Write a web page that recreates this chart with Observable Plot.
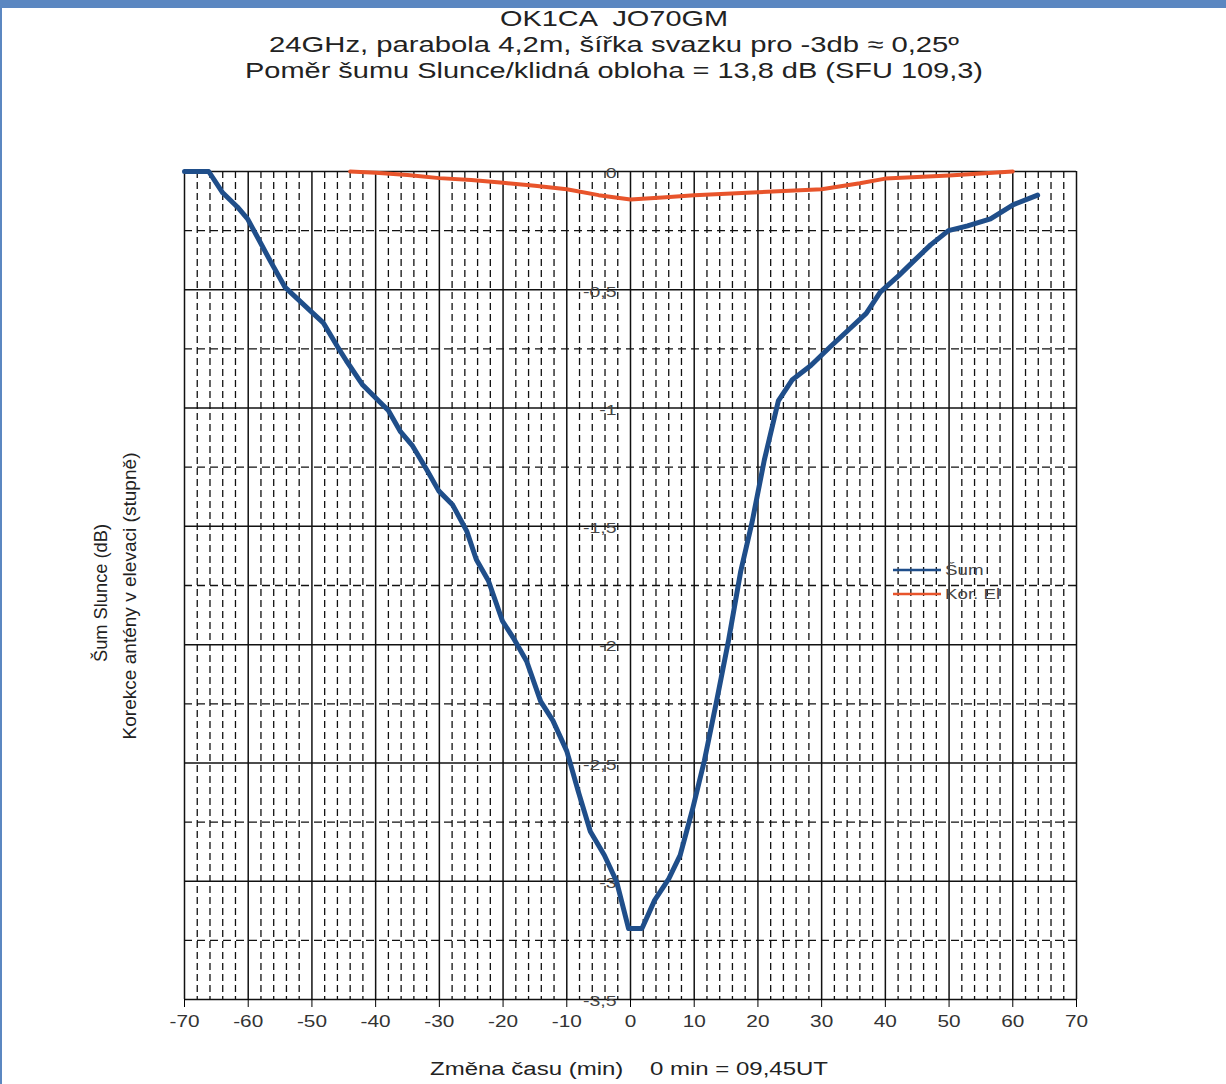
<!DOCTYPE html>
<html>
<head>
<meta charset="utf-8">
<script src="https://cdn.jsdelivr.net/npm/d3@7"></script>
<script src="https://cdn.jsdelivr.net/npm/@observablehq/plot@0.6"></script>
<style>
  html, body { margin: 0; padding: 0; background: #fff; }
  #wrap { position: relative; width: 1226px; height: 1084px; overflow: hidden; font-family: "Liberation Sans", Arial, sans-serif; }
  #chart { position: absolute; left: 0; top: 0; }
  #overlay { position: absolute; left: 0; top: 0; pointer-events: none; }
  .bt { position: absolute; left: 0; top: 0; width: 1226px; height: 8px; background: #5b87c1; }
  .bl { position: absolute; left: 0; top: 0; width: 2px; height: 1084px; background: #5b87c1; }
</style>
</head>
<body>
<div id="wrap">
  <div id="chart"></div>
  <svg id="overlay" width="1226" height="1084"></svg>
  <div class="bt"></div>
  <div class="bl"></div>
</div>
<script>
// ---- data ----
const sunMin = [-70, -66.2, -64, -61.7, -60.1, -58.5, -56.5, -54.2, -50.2, -48.2, -46, -44.6, -42.1, -39.9, -38, -36.1, -34.2, -32, -30.1, -27.9, -25.7, -24.2, -22.3, -20.1, -18.2, -16.3, -14.1, -12.2, -10, -8.2, -6.3, -4.1, -2.2, -0.3, 1.8, 3.8, 6, 7.8, 9.7, 11.6, 13.5, 15.4, 17.3, 19.1, 21, 23.2, 25.4, 28.3, 31.4, 34.2, 37, 39.2, 42.1, 44.4, 47.1, 49.9, 52.9, 56.5, 60.1, 63.9];
const sunDb = [0, 0, -0.09, -0.15, -0.2, -0.28, -0.38, -0.49, -0.59, -0.64, -0.74, -0.8, -0.9, -0.96, -1.01, -1.1, -1.16, -1.26, -1.35, -1.41, -1.52, -1.64, -1.73, -1.9, -1.98, -2.07, -2.24, -2.32, -2.45, -2.62, -2.79, -2.89, -3.0, -3.2, -3.2, -3.08, -2.99, -2.89, -2.7, -2.49, -2.24, -1.98, -1.69, -1.48, -1.22, -0.97, -0.88, -0.82, -0.74, -0.67, -0.6, -0.51, -0.44, -0.38, -0.31, -0.25, -0.23, -0.2, -0.14, -0.1];
const elMin = [-44, -40, -35, -30, -25, -20, -15, -10, -5, 0, 5, 10, 20, 30, 36, 40, 50, 60];
const elCorr = [0, -0.005, -0.015, -0.028, -0.036, -0.048, -0.06, -0.075, -0.1, -0.118, -0.11, -0.1, -0.088, -0.075, -0.05, -0.03, -0.017, 0];
const xTicks = [-70, -60, -50, -40, -30, -20, -10, 0, 10, 20, 30, 40, 50, 60, 70];
const yTicks = [0, -0.5, -1, -1.5, -2, -2.5, -3, -3.5];
const yTickLabels = ["0", "-0,5", "-1", "-1,5", "-2", "-2,5", "-3", "-3,5"];
const titleLines = ["OK1CA  JO70GM", "24GHz, parabola 4,2m, šířka svazku pro -3db ≈ 0,25º", "Poměr šumu Slunce/klidná obloha = 13,8 dB (SFU 109,3)"];
const yTitle1 = "Šum Slunce (dB)";
const yTitle2 = "Korekce antény v elevaci (stupně)";
const xTitle = "Změna času (min)    0 min = 09,45UT";
const seriesNames = ["Šum", "Kor. El"];
const seriesColors = ["#1f4e8a", "#e8542b"];

// ---- derived tables ----
const sun = sunMin.map((m, i) => ({m, v: sunDb[i]}));
const el = elMin.map((m, i) => ({m, v: elCorr[i]}));
const xMinor = d3.range(-68, 70, 2).filter(v => v % 10 !== 0);
const yMinor = d3.range(-0.25, -3.5, -0.5);
const yLab = yTicks.map((v, i) => ({v, t: yTickLabels[i]}));

const chart = Plot.plot({
  width: 1226,
  height: 1084,
  marginTop: 171,
  marginBottom: 85,
  marginLeft: 184,
  marginRight: 150,
  style: {fontFamily: "'Liberation Sans', Arial, sans-serif", background: "transparent"},
  x: {domain: [-70, 70], label: null},
  y: {domain: [-3.5, 0], label: null, axis: null},
  marks: [
    Plot.ruleX(xMinor, {stroke: "#111", strokeWidth: 1.3, strokeDasharray: "7,4"}),
    Plot.ruleY(yMinor, {stroke: "#111", strokeWidth: 1.3, strokeDasharray: "8,5"}),
    Plot.ruleX(xTicks, {stroke: "#111", strokeWidth: 1.5}),
    Plot.ruleY(yTicks, {stroke: "#111", strokeWidth: 1.5}),
    Plot.axisX({ticks: xTicks, tickSize: 8, tickPadding: 8, fontSize: 16, fill: "#333", tickFormat: d => String(d), label: null}),
    Plot.text(yLab, {x: 0, y: "v", text: "t", textAnchor: "end", dx: -14, dy: 2, fontSize: 15, fill: "#444"}),
    Plot.line(el, {x: "m", y: "v", stroke: seriesColors[1], strokeWidth: 4, strokeLinejoin: "round"}),
    Plot.line(sun, {x: "m", y: "v", stroke: seriesColors[0], strokeWidth: 5, strokeLinejoin: "round", strokeLinecap: "round"})
  ]
});
document.getElementById("chart").appendChild(chart);

// stretch tick texts horizontally like the reference
chart.querySelectorAll("text").forEach(t => {
  const tr = t.getAttribute("transform");
  if (tr) t.setAttribute("transform", tr + " scale(1.3,1)");
});

// ---- overlay texts ----
const ov = d3.select("#overlay");
const ff = "'Liberation Sans', Arial, sans-serif";
const tl = [[614, 26, 228], [614, 52, 690], [614, 78, 738]];
titleLines.forEach((s, i) => {
  ov.append("text").attr("x", tl[i][0]).attr("y", tl[i][1]).attr("text-anchor", "middle")
    .attr("font-family", ff).attr("font-size", 22).attr("fill", "#222")
    .attr("textLength", tl[i][2]).attr("lengthAdjust", "spacingAndGlyphs")
    .style("white-space", "pre").text(s);
});
ov.append("text").attr("x", 629).attr("y", 1075).attr("text-anchor", "middle")
  .attr("font-family", ff).attr("font-size", 18).attr("fill", "#222")
  .attr("textLength", 398).attr("lengthAdjust", "spacingAndGlyphs")
  .style("white-space", "pre").text(xTitle);
ov.append("text").attr("transform", "translate(107,593) rotate(-90)").attr("text-anchor", "middle")
  .attr("font-family", ff).attr("font-size", 18).attr("fill", "#222")
  .attr("textLength", 138).attr("lengthAdjust", "spacingAndGlyphs").text(yTitle1);
ov.append("text").attr("transform", "translate(136,596) rotate(-90)").attr("text-anchor", "middle")
  .attr("font-family", ff).attr("font-size", 18).attr("fill", "#222")
  .attr("textLength", 287).attr("lengthAdjust", "spacingAndGlyphs").text(yTitle2);

// legend
const lg = [[570, 0], [594, 1]];
lg.forEach(([y, i]) => {
  ov.append("line").attr("x1", 893).attr("x2", 941).attr("y1", y).attr("y2", y)
    .attr("stroke", seriesColors[i]).attr("stroke-width", 2.5);
  ov.append("text").attr("x", 945).attr("y", y + 5).attr("font-family", ff).attr("font-size", 15)
    .attr("fill", "#444").attr("transform", `translate(945,0) scale(1.25,1) translate(-945,0)`).text(seriesNames[i]);
});
</script>
</body>
</html>
